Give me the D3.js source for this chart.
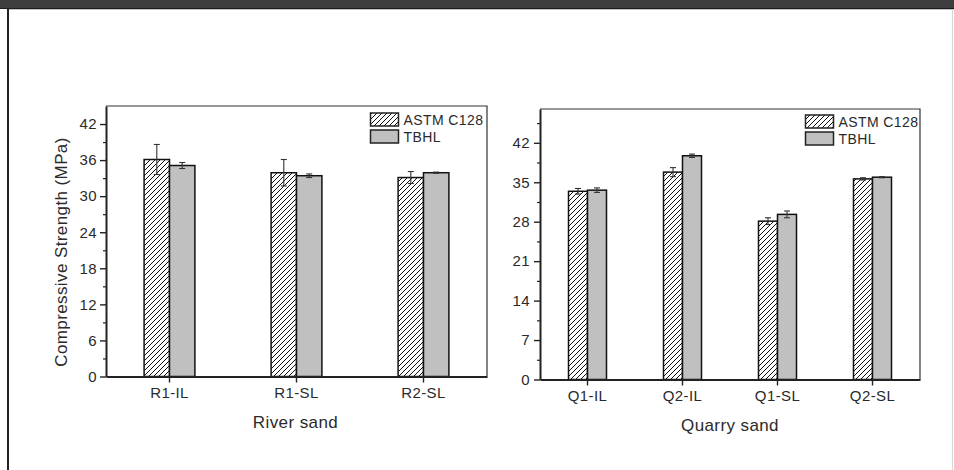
<!doctype html>
<html>
<head>
  <meta charset="utf-8">
  <title>Compressive strength</title>
  <script src="https://d3js.org/d3.v7.min.js"></script>
  <style>
    body { margin: 0; background: #fff; }
    svg text { font-family: Arial, "Liberation Sans", sans-serif; fill: #2a2a2a; letter-spacing: 0.4px; }
    .axis path, .axis line { stroke: #222; }
  </style>
</head>
<body>
<div id="vis-canvas"></div>
<script>
// river sand panel
var riverCats = ["R1-IL", "R1-SL", "R2-SL"];
var riverASTM = [36.1, 33.9, 33.1];
var riverASTMErr = [2.5, 2.2, 1.0];
var riverTBHL = [35.1, 33.4, 33.9];
var riverTBHLErr = [0.5, 0.3, 0.1];
var riverTicks = [0, 6, 12, 18, 24, 30, 36, 42];

// quarry sand panel
var quarryCats = ["Q1-IL", "Q2-IL", "Q1-SL", "Q2-SL"];
var quarryASTM = [33.4, 36.8, 28.1, 35.6];
var quarryASTMErr = [0.5, 0.8, 0.6, 0.2];
var quarryTBHL = [33.6, 39.7, 29.3, 35.9];
var quarryTBHLErr = [0.4, 0.3, 0.6, 0.1];
var quarryTicks = [0, 7, 14, 21, 28, 35, 42];

var seriesNames = ["ASTM C128", "TBHL"];

var W = 954, H = 470;
var svg = d3.select("#vis-canvas").append("svg")
    .attr("width", W).attr("height", H);

// hatch pattern
var defs = svg.append("defs");
defs.append("pattern")
    .attr("id", "hatch")
    .attr("patternUnits", "userSpaceOnUse")
    .attr("width", 5).attr("height", 5)
  .append("path")
    .attr("d", "M-1,1 l2,-2 M0,5 l5,-5 M4,6 l2,-2")
    .attr("stroke", "#111").attr("stroke-width", 1);

// window frame
svg.append("rect").attr("x", 0).attr("y", 0).attr("width", W).attr("height", 8).attr("fill", "#3e3e3e");
svg.append("rect").attr("x", 0).attr("y", 8).attr("width", W).attr("height", 1).attr("fill", "#1c1c1c");
svg.append("rect").attr("x", 9).attr("y", 9).attr("width", W - 9).attr("height", 1).attr("fill", "#c4c4c4");
svg.append("rect").attr("x", 7).attr("y", 8).attr("width", 2).attr("height", H - 8).attr("fill", "#222");
svg.append("rect").attr("x", 952).attr("y", 9).attr("width", 1).attr("height", H - 9).attr("fill", "#d8d8d8");

function panel(opt) {
  var g = svg.append("g");
  var x0 = d3.scaleBand().domain(opt.cats).range([opt.left, opt.right]).padding(0);
  var y = d3.scaleLinear().domain([0, opt.max]).range([opt.bottom, opt.top]);
  var bw = x0.bandwidth() * 0.2;
  var x1 = d3.scaleBand().domain(seriesNames).range([-bw, bw]);

  // top and right frame
  g.append("path")
      .attr("d", "M" + opt.left + "," + opt.top + "H" + opt.right + "V" + opt.bottom)
      .attr("fill", "none").attr("stroke", "#333").attr("stroke-width", 1.2);

  var series = [
    {name: seriesNames[0], vals: opt.astm, err: opt.astmErr, fill: "url(#hatch)"},
    {name: seriesNames[1], vals: opt.tbhl, err: opt.tbhlErr, fill: "#c0c0c0"}
  ];

  series.forEach(function(s) {
    var cx = function(d, i) { return x0(opt.cats[i]) + x0.bandwidth() / 2 + x1(s.name); };
    g.selectAll(null).data(s.vals).enter().append("rect")
        .attr("x", cx)
        .attr("y", function(d) { return y(d); })
        .attr("width", x1.bandwidth())
        .attr("height", function(d) { return y(0) - y(d); })
        .attr("fill", s.fill)
        .attr("stroke", "#111").attr("stroke-width", 1.5);

    // error bars
    s.vals.forEach(function(v, i) {
      var ex = cx(v, i) + x1.bandwidth() / 2;
      var e = s.err[i];
      var eg = g.append("g").attr("stroke", "#333").attr("stroke-width", 1.1);
      eg.append("line").attr("x1", ex).attr("x2", ex).attr("y1", y(v - e)).attr("y2", y(v + e));
      eg.append("line").attr("x1", ex - 3).attr("x2", ex + 3).attr("y1", y(v + e)).attr("y2", y(v + e));
      eg.append("line").attr("x1", ex - 3).attr("x2", ex + 3).attr("y1", y(v - e)).attr("y2", y(v - e));
    });
  });

  // minor ticks
  var step = opt.ticks[1] - opt.ticks[0];
  var minor = [];
  for (var k = 0; k < opt.ticks.length; k++) {
    if (opt.ticks[k] + step / 2 < opt.max) minor.push(opt.ticks[k] + step / 2);
  }
  if (opt.ticks[opt.ticks.length - 1] + step < opt.max) minor.push(opt.ticks[opt.ticks.length - 1] + step);
  g.append("g").attr("class", "axis")
      .attr("transform", "translate(" + opt.left + ",0)")
      .call(d3.axisLeft(y).tickValues(minor).tickSize(3).tickFormat(""))
      .call(function(a) { a.select(".domain").remove(); a.selectAll("line").attr("stroke-width", 1.2); });

  // y axis
  g.append("g").attr("class", "axis")
      .attr("transform", "translate(" + opt.left + ",0)")
      .call(d3.axisLeft(y).tickValues(opt.ticks).tickSize(6).tickSizeOuter(0).tickPadding(opt.pad))
      .call(function(a) {
        a.select(".domain").attr("stroke-width", 2);
        a.selectAll("line").attr("stroke-width", 1.4);
        a.selectAll("text").style("font-size", "15px").attr("fill", "#2a2a2a");
      });

  // x axis
  g.append("g").attr("class", "axis")
      .attr("transform", "translate(0," + opt.bottom + ")")
      .call(d3.axisBottom(x0).tickSize(6).tickSizeOuter(0).tickPadding(5))
      .call(function(a) {
        a.select(".domain").attr("stroke-width", 2);
        a.selectAll("line").attr("stroke-width", 1.4);
        a.selectAll("text").style("font-size", "15px").attr("fill", "#2a2a2a");
      });

  // axis title
  g.append("text")
      .attr("x", (opt.left + opt.right) / 2 + opt.titleDx)
      .attr("y", opt.titleY)
      .attr("text-anchor", "middle")
      .style("font-size", "17px")
      .text(opt.title);

  // legend
  series.forEach(function(s, i) {
    var ly = opt.legY + i * 17;
    g.append("rect")
        .attr("x", opt.legX).attr("y", ly)
        .attr("width", 28).attr("height", 13)
        .attr("fill", s.fill).attr("stroke", "#222").attr("stroke-width", 1.5);
    g.append("text")
        .attr("x", opt.legX + 33).attr("y", ly + 11.5)
        .style("font-size", "14px")
        .text(s.name);
  });
}

panel({
  cats: riverCats, astm: riverASTM, astmErr: riverASTMErr, tbhl: riverTBHL, tbhlErr: riverTBHLErr,
  ticks: riverTicks, max: 45, left: 106, right: 487, top: 106, bottom: 376.5, pad: 3,
  title: "River sand", titleY: 427.5, titleDx: -1, legX: 370.5, legY: 113
});

panel({
  cats: quarryCats, astm: quarryASTM, astmErr: quarryASTMErr, tbhl: quarryTBHL, tbhlErr: quarryTBHLErr,
  ticks: quarryTicks, max: 48, left: 540, right: 920, top: 109, bottom: 379.5, pad: 4,
  title: "Quarry sand", titleY: 430.5, titleDx: 0, legX: 805.5, legY: 115
});

// y title (left panel)
svg.append("text")
    .attr("transform", "translate(67,252) rotate(-90)")
    .attr("text-anchor", "middle")
    .style("font-size", "17px")
    .text("Compressive Strength (MPa)");
</script>
</body>
</html>
